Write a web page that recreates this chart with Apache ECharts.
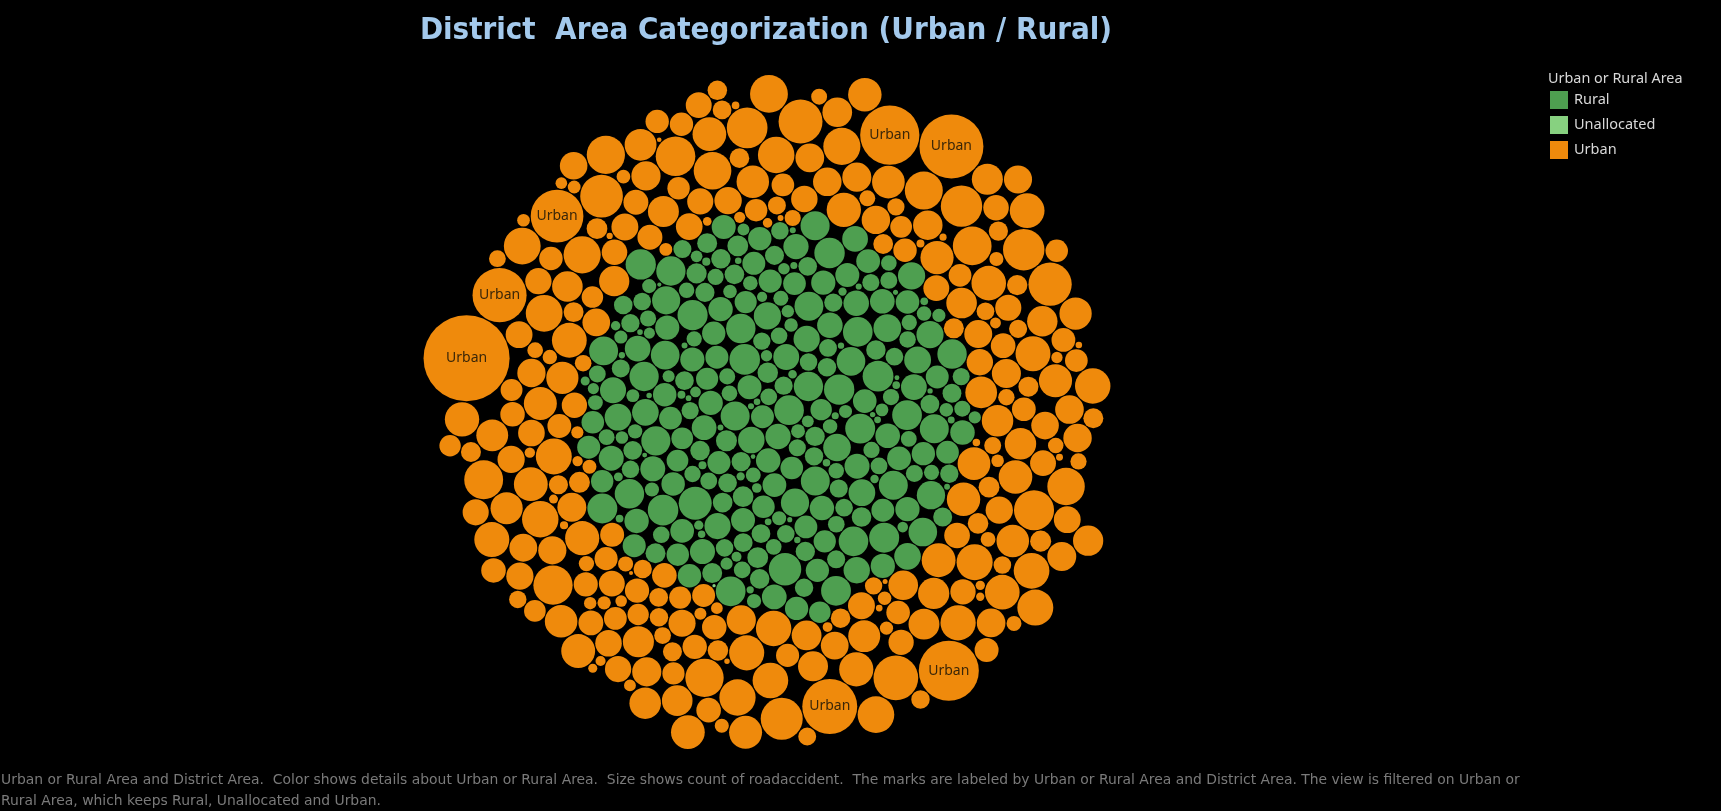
<!DOCTYPE html>
<html><head><meta charset="utf-8">
<script src="https://cdn.jsdelivr.net/npm/echarts/dist/echarts.min.js"></script>
<style>html,body{margin:0;padding:0;background:#000;}#c{width:1721px;height:811px;}</style>
</head><body><div id="c"></div>
<script>
// ---- data (counts of road accidents per district) ----
const categories = ['Rural', 'Unallocated', 'Urban'];
const ruralCounts = [
905,538,287,655,341,198,45,722,880,38,143,588,432,301,867,254,470,619,389,77,
528,346,691,215,453,960,318,944,22,266,860,132,610,375,548,229,783,52,309,58,
35,583,352,174,631,920,505,283,709,390,96,544,327,70,816,246,845,573,361,187,
890,640,305,438,119,557,41,762,271,524,975,33,598,336,482,205,667,66,291,530,
359,158,614,30,855,276,735,398,64,566,322,485,902,239,1120,591,48,169,503,625,
272,611,910,388,703,149,534,291,846,27,233,567,47,870,362,640,317,529,188,73,
585,340,36,106,668,935,253,551,379,729,286,512,88,59,598,324,880,212,790,395,
865,219,536,367,604,25,42,315,682,258,900,562,137,741,354,31,280,958,396,171,
623,384,270,1080,443,71,592,336,24,207,676,860,541,298,126,575,363,57,812,245,
358,39,162,647,925,312,556,393,733,102,51,285,604,372,519,236,697,890,330,194,
540,301,950,824,242,417,571,41,29,349,655,267,880,388,152,613,44,320,756,411,
284,579,366,33,115,638,905,532,261,713,445,54,561,343,68,218,606,870,887,295,
523,176,915,345,681,409,82,547,318,26,227,629,860,515,290,764,49,141,566,357,
408,617,252,840,372,18,594,335,727,35,203,558,299,476,921,264,940,543,155,62,
146,92,210,61,178,37,128,84
];
const unallocatedCounts = [11];
const urbanCounts = [
412,786,153,940,538,267,1105,622,94,731,348,1210,475,58,880,563,199,1034,687,311,
745,128,962,519,402,1148,36,657,829,284,1062,446,171,713,590,1287,332,77,905,641,
233,1176,498,803,365,142,1019,676,451,26,858,582,1243,297,719,109,984,527,391,1130,
614,188,772,1326,435,65,912,548,260,1083,701,377,836,149,1195,603,46,753,486,1001,
323,668,1371,214,869,532,98,1117,745,409,17,958,627,1264,276,794,163,1048,571,350,
1420,689,241,893,515,1161,83,762,428,1335,612,179,1012,548,302,1456,729,52,848,465,
1225,637,226,981,396,1389,703,121,867,1540,578,338,1096,820,69,1302,659,254,1178,741,
414,1480,596,137,925,1650,782,289,1254,40,708,1087,1610,533,203,1362,817,442,1760,654,
112,1198,876,1580,371,990,2050,615,184,1413,759,1870,492,31,1129,1700,686,318,1510,948,
3100,567,1276,157,1810,843,1043,7600,426,1350,3600,724,90,1920,1165,505,2850,872,246,1980,
1061,3700,633,1440,4200,797,194,1760,1230,3000,560,1090,71,1550,905,380,1390,840,1210,670,
1310,455,990,1180,132,760,1470,580,1040,290,1260,830,50,1120,710,1380,410,960,1500,620,
270,860,1150,530,1020,170,1290,740,940,360,1070,590,1240,22,810,1170,480,1330,700,105,
560,230,780,310,145,620,410,85,690,350,205,520,44,470,165,390,260,60,330,140
];
const titleText = 'District  Area Categorization (Urban / Rural)';
const legendTitle = 'Urban or Rural Area';
const footerLines = [
  'Urban or Rural Area and District Area.  Color shows details about Urban or Rural Area.  Size shows count of roadaccident.  The marks are labeled by Urban or Rural Area and District Area. The view is filtered on Urban or',
  'Rural Area, which keeps Rural, Unallocated and Urban.'
];
const palette = ['#4E9F50', '#87D180', '#EF8A0C'];

// ---- front-chain circle packing (as in d3.packSiblings) ----
function place(b, a, c) {
  var dx = b.x - a.x, x, a2, dy = b.y - a.y, y, b2, d2 = dx * dx + dy * dy;
  if (d2) {
    a2 = a.r + c.r; a2 *= a2; b2 = b.r + c.r; b2 *= b2;
    if (a2 > b2) {
      x = (d2 + b2 - a2) / (2 * d2); y = Math.sqrt(Math.max(0, b2 / d2 - x * x));
      c.x = b.x - x * dx - y * dy; c.y = b.y - x * dy + y * dx;
    } else {
      x = (d2 + a2 - b2) / (2 * d2); y = Math.sqrt(Math.max(0, a2 / d2 - x * x));
      c.x = a.x + x * dx - y * dy; c.y = a.y + x * dy + y * dx;
    }
  } else { c.x = a.x + c.r; c.y = a.y; }
}
function intersects(a, b) {
  var dr = a.r + b.r - 1e-6, dx = b.x - a.x, dy = b.y - a.y;
  return dr > 0 && dr * dr > dx * dx + dy * dy;
}
function score(node) {
  var a = node._, b = node.next._, ab = a.r + b.r,
      dx = (a.x * b.r + b.x * a.r) / ab, dy = (a.y * b.r + b.y * a.r) / ab;
  return dx * dx + dy * dy;
}
function Node(c) { this._ = c; this.next = null; this.previous = null; }
function packSiblings(circles) {
  var n = circles.length, a, b, c, aa, ca, i, j, k, sj, sk;
  if (!n) return;
  a = circles[0]; a.x = 0; a.y = 0; if (n < 2) return;
  b = circles[1]; a.x = -b.r; b.x = a.r; b.y = 0; if (n < 3) return;
  place(b, a, c = circles[2]);
  a = new Node(a); b = new Node(b); c = new Node(c);
  a.next = c.previous = b; b.next = a.previous = c; c.next = b.previous = a;
  pack: for (i = 3; i < n; ++i) {
    place(a._, b._, c = circles[i]); c = new Node(c);
    j = b.next; k = a.previous; sj = b._.r; sk = a._.r;
    do {
      if (sj <= sk) {
        if (intersects(j._, c._)) { b = j; a.next = b; b.previous = a; --i; continue pack; }
        sj += j._.r; j = j.next;
      } else {
        if (intersects(k._, c._)) { a = k; a.next = b; b.previous = a; --i; continue pack; }
        sk += k._.r; k = k.previous;
      }
    } while (j !== k.next);
    c.previous = a; c.next = b; a.next = b.previous = b = c;
    aa = score(a);
    while ((c = c.next) !== b) { if ((ca = score(c)) < aa) { a = c; aa = ca; } }
    b = a.next;
  }
}

const PAD = 1.1;
const groups = [ruralCounts, unallocatedCounts, urbanCounts];
const circles = [];
groups.forEach((arr, gi) => arr.forEach(v => circles.push({ r: Math.sqrt(v) + PAD, v: v, g: gi })));
packSiblings(circles);

// orient the layout: mirror, then turn so the largest mark sits on the left, slightly above centre
let mx = 0, my = 0;
circles.forEach(c => { c.x = -c.x; mx += c.x; my += c.y; });
mx /= circles.length; my /= circles.length;
const biggest = circles.reduce((m, c) => (c.v > m.v ? c : m), circles[0]);
const targetAngle = 169.4 * Math.PI / 180;
const rot = targetAngle - Math.atan2(biggest.y - my, biggest.x - mx);
circles.forEach(c => {
  const dx = c.x - mx, dy = c.y - my;
  c.x = dx * Math.cos(rot) - dy * Math.sin(rot);
  c.y = dx * Math.sin(rot) + dy * Math.cos(rot);
});

let minX = Infinity, maxX = -Infinity, minY = Infinity, maxY = -Infinity;
circles.forEach(c => {
  minX = Math.min(minX, c.x - c.r); maxX = Math.max(maxX, c.x + c.r);
  minY = Math.min(minY, c.y - c.r); maxY = Math.max(maxY, c.y + c.r);
});
const spanX = maxX - minX, spanY = maxY - minY;
const targetSize = 688, cx = 767, cy = 412;
const s = targetSize / Math.max(spanX, spanY);
const gw = spanX * s, gh = spanY * s;

const seriesData = categories.map(() => []);
circles.forEach(c => seriesData[c.g].push([c.x, c.y, Math.sqrt(c.v), c.v]));

const chart = echarts.init(document.getElementById('c'), null, { renderer: 'canvas' });
chart.setOption({
  backgroundColor: '#000000',
  animation: false,
  grid: { left: cx - gw / 2, top: cy - gh / 2, width: gw, height: gh, containLabel: false },
  xAxis: { type: 'value', min: minX, max: maxX, show: false },
  yAxis: { type: 'value', min: minY, max: maxY, show: false },
  legend: {
    orient: 'vertical', left: 1550, top: 91, padding: 0, itemWidth: 18, itemHeight: 18, itemGap: 7,
    icon: 'rect', selectedMode: false,
    textStyle: { color: '#d8d8d8', fontSize: 14.5, fontFamily: '"Noto Sans"', padding: [0, 0, 0, 1] },
    data: categories
  },
  graphic: [
    { type: 'text', x: 766, y: 31, style: { text: titleText, fill: '#a3c9ec', align: 'center', verticalAlign: 'middle',
      fontFamily: '"Liberation Sans Narrow", "DejaVu Sans Condensed", sans-serif', fontWeight: 'bold', fontSize: 31 } },
    { type: 'text', x: 1548, y: 79, style: { text: legendTitle, fill: '#d8d8d8', verticalAlign: 'middle',
      fontFamily: '"Noto Sans"', fontSize: 14.4 } },
    { type: 'text', x: 1, y: 780, style: { text: footerLines[0], fill: '#7a7a7a', verticalAlign: 'middle',
      fontFamily: '"DejaVu Sans"', fontSize: 13.9 } },
    { type: 'text', x: 1, y: 801, style: { text: footerLines[1], fill: '#7a7a7a', verticalAlign: 'middle',
      fontFamily: '"DejaVu Sans"', fontSize: 13.9 } }
  ],
  series: categories.map((name, gi) => ({
    type: 'custom', name: name, coordinateSystem: 'cartesian2d',
    itemStyle: { color: palette[gi] },
    data: seriesData[gi],
    silent: true,
    renderItem: function (params, api) {
      const p = api.coord([api.value(0), api.value(1)]);
      const r = api.size([api.value(2), 0])[0];
      const children = [{ type: 'circle', shape: { cx: p[0], cy: p[1], r: r }, style: { fill: palette[gi] } }];
      if (name === 'Urban' && r >= 24) {
        children.push({ type: 'text', style: { text: 'Urban', x: p[0], y: p[1], align: 'center', verticalAlign: 'middle',
          fill: '#3a2608', fontSize: 14, fontFamily: '"Noto Sans"' } });
      }
      return { type: 'group', children: children };
    }
  }))
});
</script>
</body></html>
